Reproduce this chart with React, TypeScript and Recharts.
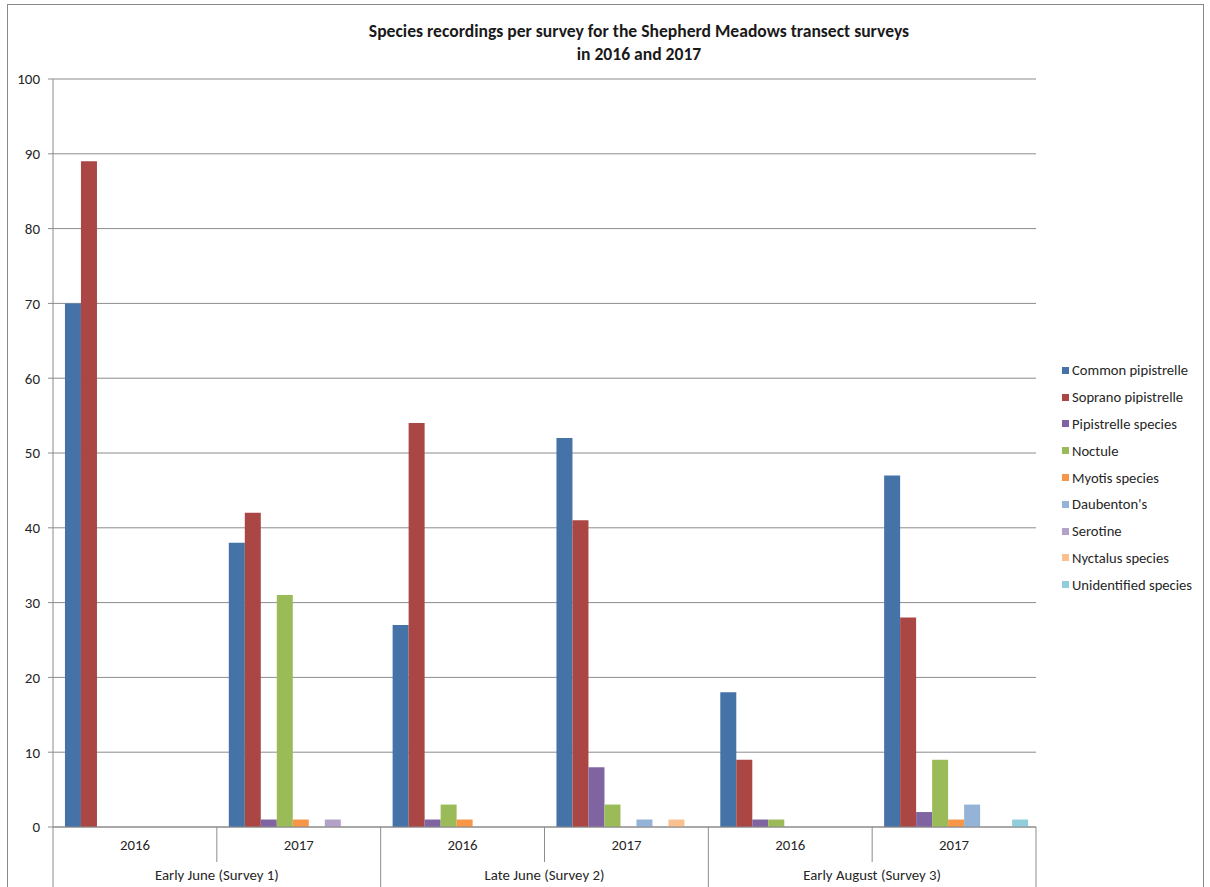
import React from "react";
import { BarChart, Bar, XAxis, YAxis, CartesianGrid, Legend } from "recharts";

const categories = ["2016", "2017", "2016", "2017", "2016", "2017"];
const surveys = ["Early June (Survey 1)", "Late June (Survey 2)", "Early August (Survey 3)"];

const commonPipistrelle = [70, 38, 27, 52, 18, 47];
const sopranoPipistrelle = [89, 42, 54, 41, 9, 28];
const pipistrelleSpecies = [0, 1, 1, 8, 1, 2];
const noctule = [0, 31, 3, 3, 1, 9];
const myotisSpecies = [0, 1, 1, 0, 0, 1];
const daubentons = [0, 0, 0, 1, 0, 3];
const serotine = [0, 1, 0, 0, 0, 0];
const nyctalusSpecies = [0, 0, 0, 1, 0, 0];
const unidentifiedSpecies = [0, 0, 0, 0, 0, 1];

const yTicks = [0, 10, 20, 30, 40, 50, 60, 70, 80, 90, 100];

const seriesList = [
  { key: "Common pipistrelle", values: commonPipistrelle, color: "#4572A7" },
  { key: "Soprano pipistrelle", values: sopranoPipistrelle, color: "#AA4643" },
  { key: "Pipistrelle species", values: pipistrelleSpecies, color: "#8064A2" },
  { key: "Noctule", values: noctule, color: "#9BBB59" },
  { key: "Myotis species", values: myotisSpecies, color: "#F79646" },
  { key: "Daubenton's", values: daubentons, color: "#95B3D7" },
  { key: "Serotine", values: serotine, color: "#B3A2C7" },
  { key: "Nyctalus species", values: nyctalusSpecies, color: "#FAC090" },
  { key: "Unidentified species", values: unidentifiedSpecies, color: "#92CDDC" },
];

const data = categories.map((c, i) => {
  const row: Record<string, any> = { name: c + "-" + i, year: c };
  seriesList.forEach((s) => {
    row[s.key] = s.values[i];
  });
  return row;
});

const FONT = "Carlito, Lato, 'Open Sans', sans-serif";
const PLOT_LEFT = 53;
const PLOT_RIGHT = 1036;
const BAND = (PLOT_RIGHT - PLOT_LEFT) / categories.length;
const LINE = "#8C8C8C";
const TEXT = "#262626";
const FS = 14.8;

const CategoryTick = (props: any) => {
  const { x, y, index, payload } = props;
  const left = x - BAND / 2;
  const right = x + BAND / 2;
  const major = index % 2 === 0;
  const year = categories[index] ?? payload.value;
  return (
    <g>
      <line x1={left} y1={y} x2={left} y2={major ? y + 62 : y + 35} stroke={LINE} strokeWidth={1} />
      {index === categories.length - 1 && (
        <line x1={right} y1={y} x2={right} y2={y + 62} stroke={LINE} strokeWidth={1} />
      )}
      <text x={x} y={y + 23} textAnchor="middle" fontSize={FS} fill={TEXT} fontFamily={FONT}>
        {year}
      </text>
      {index % 2 === 1 && (
        <text x={left} y={y + 53} textAnchor="middle" fontSize={FS} fill={TEXT} fontFamily={FONT}>
          {surveys[(index - 1) / 2]}
        </text>
      )}
    </g>
  );
};

const LegendContent = (props: any) => {
  const payload = props.payload || [];
  const ordered = seriesList
    .map((s) => payload.find((p: any) => p.value === s.key || p.dataKey === s.key))
    .filter(Boolean);
  return (
    <div style={{ fontFamily: FONT, fontSize: 14.6, color: TEXT }}>
      {ordered.map((p: any) => (
        <div key={p.value} style={{ height: 26.8, display: "flex", alignItems: "center", whiteSpace: "nowrap" }}>
          <span style={{ display: "inline-block", width: 7, height: 7, background: p.color, marginRight: 3 }} />
          <span>{p.value}</span>
        </div>
      ))}
    </div>
  );
};

export default function App() {
  return (
    <div style={{ position: "absolute", left: 0, top: 0, width: 1210, height: 887, overflow: "hidden", background: "#fff" }}>
      <div
        style={{
          position: "absolute",
          left: 7,
          top: 4,
          width: 1197,
          height: 890,
          border: "1.5px solid #8A8A8A",
          borderBottom: "none",
          boxSizing: "border-box",
        }}
      />
      <div
        style={{
          position: "absolute",
          left: 289,
          top: 20,
          width: 700,
          textAlign: "center",
          fontFamily: FONT,
          fontWeight: "bold",
          fontSize: 17.6,
          lineHeight: "23px",
          color: "#1a1a1a",
        }}
      >
        Species recordings per survey for the Shepherd Meadows transect surveys
        <br />
        in 2016 and 2017
      </div>
      <div style={{ position: "absolute", left: 0, top: 0 }}>
        <BarChart
          width={1210}
          height={887}
          data={data}
          margin={{ top: 79, right: 1210 - PLOT_RIGHT, bottom: 0, left: 3 }}
          barCategoryGap="7.3%"
          barGap={0}
        >
          <CartesianGrid vertical={false} stroke={LINE} strokeWidth={1} />
          <XAxis
            dataKey="name"
            height={60}
            tickSize={0}
            tickMargin={0}
            tickLine={false}
            axisLine={{ stroke: LINE }}
            interval={0}
            tick={<CategoryTick />}
          />
          <YAxis
            width={50}
            domain={[0, 100]}
            ticks={yTicks}
            interval={0}
            tickSize={5}
            tickMargin={8}
            tickLine={{ stroke: LINE }}
            axisLine={{ stroke: LINE }}
            tick={{ fontSize: 15, fill: TEXT, fontFamily: FONT }}
          />
          <Legend
            layout="vertical"
            align="center"
            verticalAlign="middle"
            wrapperStyle={{ left: 1062, top: 357, width: 148, right: "auto", bottom: "auto" }}
            content={<LegendContent />}
          />
          {seriesList.map((s) => (
            <Bar key={s.key} dataKey={s.key} fill={s.color} isAnimationActive={false} />
          ))}
        </BarChart>
      </div>
    </div>
  );
}
